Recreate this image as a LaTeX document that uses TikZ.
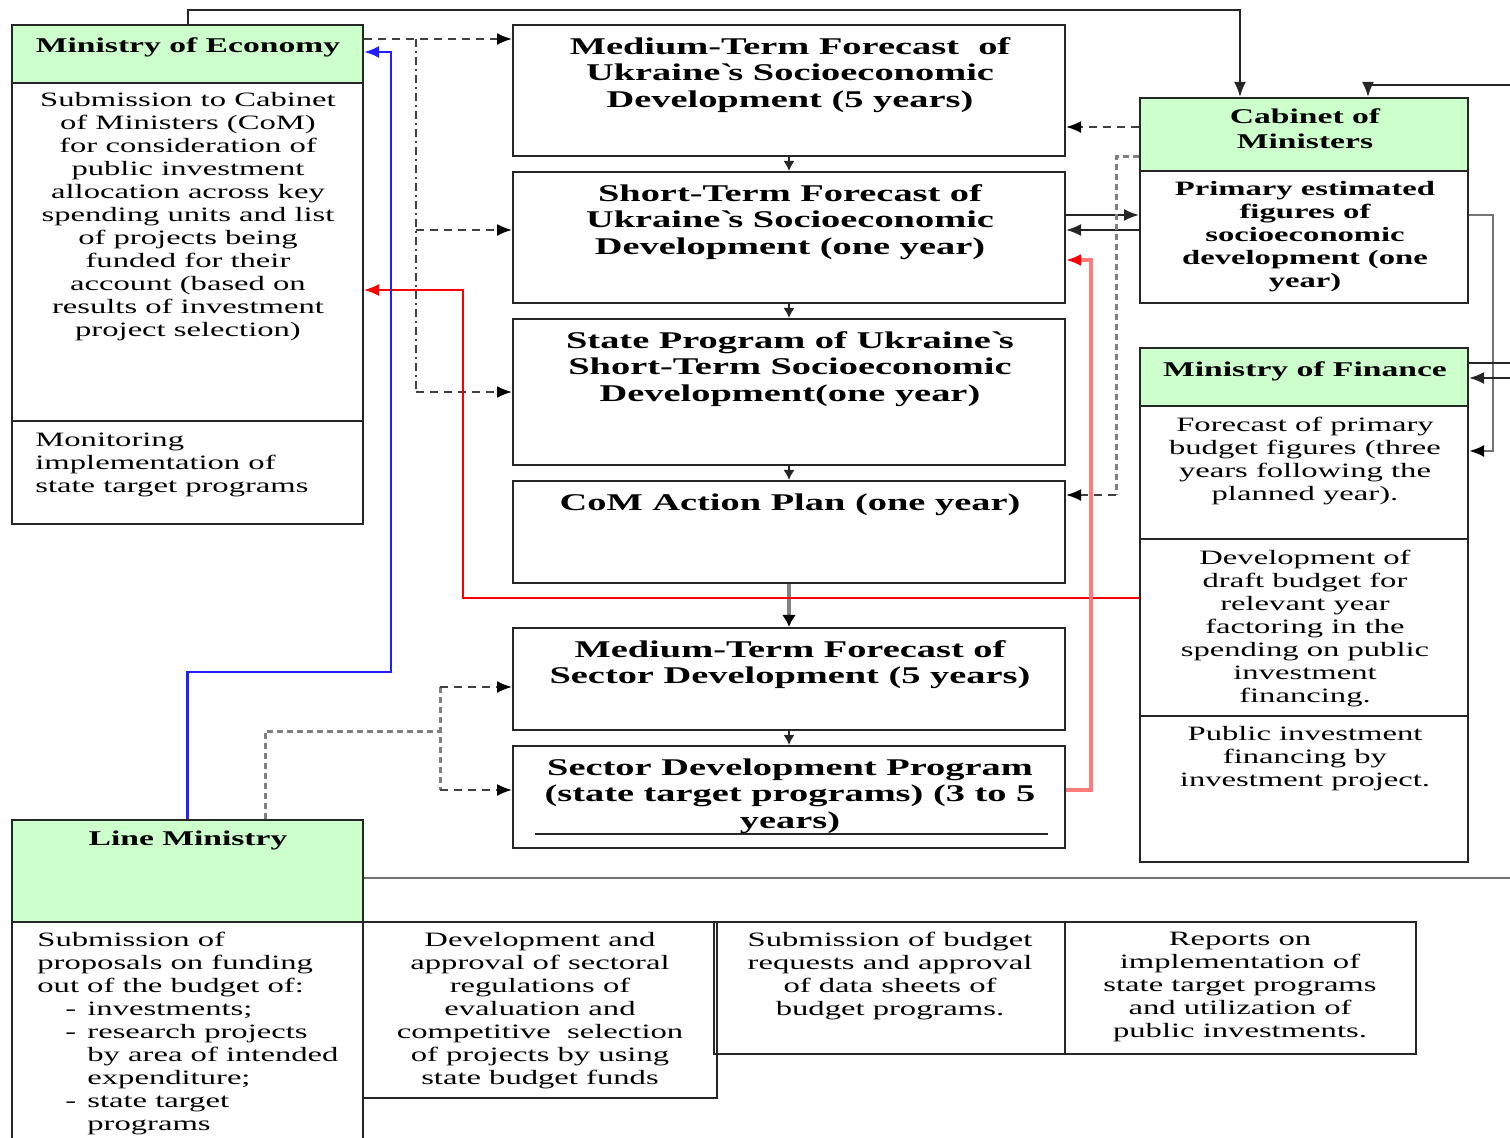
\documentclass[tikz,border=0pt]{standalone}
\usepackage{fontspec}
\setmainfont{Liberation Serif}[FakeStretch=1.6]
\usetikzlibrary{fit,arrows.meta}
\definecolor{hdrgreen}{HTML}{CCFFCC}
\definecolor{pinkred}{HTML}{FF7A7A}
\definecolor{lineblue}{HTML}{2020FF}

\begin{document}
\begin{tikzpicture}[x=0.5pt,y=-0.5pt]
            \tikzstyle{box}=[draw=black!85, line width=1pt, inner sep=0pt, rectangle]
            \tikzstyle{hdr}=[box, fill=hdrgreen]
            \tikzstyle{ttl}=[anchor=north, align=center, inner sep=0pt, font=\fontsize{12}{13.25}\selectfont\bfseries]
            \tikzstyle{htxt}=[anchor=north, align=center, inner sep=0pt, font=\fontsize{10.5}{12.5}\selectfont\bfseries]
            \tikzstyle{btxt}=[anchor=north, align=center, inner sep=0pt, font=\fontsize{10.2}{11.5}\selectfont\bfseries]
            \tikzstyle{txt}=[anchor=north, align=center, inner sep=0pt, font=\fontsize{10.2}{11.5}\selectfont]
            \tikzstyle{ltxt}=[txt, anchor=north west, align=left]
            \tikzstyle{flow}=[black!85, line width=1pt, -{Latex[length=7.5pt,width=6pt]}]
            \tikzstyle{small}=[black!85, line width=0.8pt, -{Latex[length=5pt,width=5.5pt]}]
            \tikzstyle{dline}=[black!75, line width=1pt, dash pattern=on 4pt off 3pt]
            \tikzstyle{dflow}=[dline, -{Latex[length=7.5pt,width=6pt,color=black]}]
            \tikzstyle{gdline}=[gray, line width=1.5pt, dash pattern=on 3pt off 2pt]

            \clip (0,0) rectangle (1510,1138);

            % Ministry of Economy
            \node[hdr, fit={(12,25) (363,83)}] (moeh) {};
            \node[box, fit={(12,83) (363,421)}] (moeb) {};
            \node[box, fit={(12,421) (363,524)}] (moem) {};
            \node[htxt] (moeht) at (188,37) {Ministry of Economy};
            \node[txt] (moebt) at (188,92) {Submission to Cabinet\\ of Ministers (CoM)\\ for consideration of\\ public investment\\ allocation across key\\ spending units and list\\ of projects being\\ funded for their\\ account (based on\\ results of investment\\ project selection)};
            \node[ltxt] (moemt) at (35,433) {Monitoring\\ implementation of\\ state target programs};

            % forecasts and programs
            \node[box, fit={(513,25) (1065,156)}] (mtf) {};
            \node[box, fit={(513,172) (1065,303)}] (stf) {};
            \node[box, fit={(513,319) (1065,465)}] (sp) {};
            \node[box, fit={(513,481) (1065,583)}] (ap) {};
            \node[box, fit={(513,628) (1065,730)}] (mts) {};
            \node[box, fit={(513,746) (1065,848)}] (sdp) {};
            \node[ttl] (mtft) at (790,37) {Medium-Term Forecast \ of\\ Ukraine\textasciigrave s Socioeconomic\\ Development (5 years)};
            \node[ttl] (stft) at (790,184) {Short-Term Forecast of\\ Ukraine\textasciigrave s Socioeconomic\\ Development (one year)};
            \node[ttl] (spt) at (790,331) {State Program of Ukraine\textasciigrave s\\ Short-Term Socioeconomic\\ Development(one year)};
            \node[ttl] (apt) at (790,493) {CoM Action Plan (one year)};
            \node[ttl] (mtst) at (790,640) {Medium-Term Forecast of\\ Sector Development (5 years)};
            \node[ttl] (sdpt) at (790,758) {Sector Development Program\\ (state target programs) (3 to 5\\ years)};
            \draw[black!85, line width=0.8pt] (535,834) -- (1048,834);

            % Cabinet of Ministers
            \node[hdr, fit={(1140,98) (1468,171)}] (cabh) {};
            \node[box, fit={(1140,171) (1468,303)}] (cabb) {};
            \node[htxt] (cabht) at (1305,108) {Cabinet of\\ Ministers};
            \node[btxt] (cabbt) at (1305,181) {Primary estimated\\ figures of\\ socioeconomic\\ development (one\\ year)};

            % Ministry of Finance
            \node[hdr, fit={(1140,348) (1468,406)}] (mofh) {};
            \node[box, fit={(1140,406) (1468,539)}] (moff) {};
            \node[box, fit={(1140,539) (1468,716)}] (mofd) {};
            \node[box, fit={(1140,716) (1468,862)}] (mofp) {};
            \node[htxt] (mofht) at (1305,361) {Ministry of Finance};
            \node[txt] (mofft) at (1305,417) {Forecast of primary\\ budget figures (three\\ years following the\\ planned year).};
            \node[txt] (mofdt) at (1305,550) {Development of\\ draft budget for\\ relevant year\\ factoring in the\\ spending on public\\ investment\\ financing.};
            \node[txt] (mofpt) at (1305,726) {Public investment\\ financing by\\ investment project.};

            % Line Ministry
            \node[hdr, fit={(12,820) (363,922)}] (lmh) {};
            \node[box, fit={(12,922) (363,1160)}] (lmb) {};
            \node[box, fit={(363,922) (717,1098)}] (devb) {};
            \node[box, fit={(714,922) (1065,1054)}] (subb) {};
            \node[box, fit={(1065,922) (1416,1054)}] (repb) {};
            \node[htxt] (lmht) at (188,831) {Line Ministry};
            \node[ltxt] (lmbt) at (37,932) {Submission of\\ proposals on funding\\ out of the budget of:\\
              \hspace*{14pt}\makebox[11pt][l]{-}investments;\\
              \hspace*{14pt}\makebox[11pt][l]{-}research projects\\
              \hspace*{25pt}by area of intended\\
              \hspace*{25pt}expenditure;\\
              \hspace*{14pt}\makebox[11pt][l]{-}state target\\
              \hspace*{25pt}programs};
            \node[txt] (devbt) at (540,932) {Development and\\ approval of sectoral\\ regulations of\\ evaluation and\\ competitive \ selection\\ of projects by using\\ state budget funds};
            \node[txt] (subbt) at (890,932) {Submission of budget\\ requests and approval\\ of data sheets of\\ budget programs.};
            \node[txt] (repbt) at (1240,932) {Reports on\\ implementation of\\ state target programs\\ and utilization of\\ public investments.};

            % links leaving the picture on the right
            \coordinate (rin1) at (1515,85);
            \coordinate (rin2) at (1515,363);
            \coordinate (rin3) at (1515,378);
            \coordinate (rout) at (1515,878);

            % solid links
            \draw[flow] (moeh.north) |- (1240,10) -- (cabh.north -| 1240,0);
            \draw[flow] (rin1) -| (cabh.north -| 1368,0);
            \draw[flow, black!55, line width=1.3pt, -{Latex[length=7.5pt,width=6pt,color=black]}] (cabb.east |- 0,215) -- (1493,215) |- (moff.east |- 0,451);
            \draw[black!85, line width=0.8pt] (rin2) -- (mofh.east |- 0,363);
            \draw[flow] (rin3) -- (mofh.east |- 0,378);
            \draw[flow] (stf.east |- 0,215) -- (cabb.west |- 0,215);
            \draw[flow] (cabb.west |- 0,230) -- (stf.east |- 0,230);
            \draw[black!55, line width=1.2pt] (lmh.east |- 0,878) -- (rout);

            % down the middle column
            \draw[small] (mtf.south) -- (stf.north);
            \draw[small] (stf.south) -- (sp.north);
            \draw[small] (sp.south) -- (ap.north);
            \draw[small, gray, line width=2pt, -{Latex[length=6pt,width=7pt,color=black]}] (ap.south) -- (mts.north);
            \draw[small] (mts.south) -- (sdp.north);

            % dashed links
            \draw[dflow] (moeh.east |- 0,39) -- (mtf.west |- 0,39);
            \draw[dline, dash pattern=on 4pt off 2pt on 1pt off 2pt] (416,39) -- (416,392);
            \draw[dflow] (416,230) -- (stf.west |- 0,230);
            \draw[dflow] (416,392) -- (sp.west |- 0,392);
            \draw[dflow] (cabh.west |- 0,127) -- (mtf.east |- 0,127);
            \draw[gdline] (cabh.west |- 0,157) -| (1116,495);
            \draw[dflow] (1116,495) -- (ap.east |- 0,495);
            \draw[gdline] (lmh.north -| 265,0) |- (440,731);
            \draw[gdline] (440,687) -- (440,790);
            \draw[dflow] (440,687) -- (mts.west |- 0,687);
            \draw[dflow] (440,790) -- (sdp.west |- 0,790);

            % coloured links
            \draw[flow, red, line width=0.9pt] (mofd.west |- 0,598) -| (463,290) -- (moeb.east |- 0,290);
            \draw[flow, pinkred, line width=1.6pt, -{Latex[length=7.5pt,width=6pt,color=red]}] (sdp.east |- 0,790) -| (1091,260) -- (stf.east |- 0,260);
            \draw[flow, lineblue, line width=1.2pt] (lmh.north) |- (391,672) |- (moeh.east |- 0,52);
\end{tikzpicture}
\end{document}
